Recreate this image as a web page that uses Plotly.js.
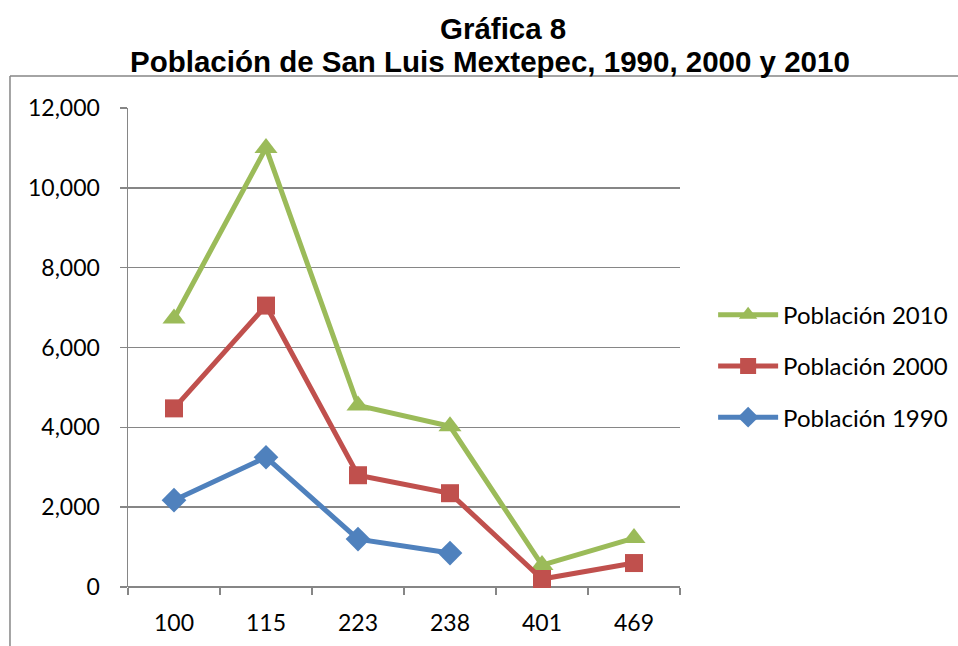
<!DOCTYPE html>
<html>
<head>
<meta charset="utf-8">
<script src="https://cdn.plot.ly/plotly-3.0.1.min.js"></script>
<style>
html,body{margin:0;padding:0;background:#fff;}
#chart{width:958px;height:646px;}
</style>
</head>
<body>
<div id="chart"></div>
<script>
const categories = ["100", "115", "223", "238", "401", "469"];
const pob1990 = [2175, 3250, 1200, 850, null, null];
const pob2000 = [4475, 7050, 2800, 2350, 200, 600];
const pob2010 = [6725, 11000, 4550, 4025, 550, 1225];
const yTicks = [0, 2000, 4000, 6000, 8000, 10000, 12000];
const titleLine1 = 'Gráfica 8';
const titleLine2 = 'Población de San Luis Mextepec, 1990, 2000 y 2010';

const common = {type: 'scatter', mode: 'lines+markers', x: categories, cliponaxis: false};
const traces = [
  Object.assign({}, common, {name: 'Población 1990', y: pob1990, legendrank: 3, legendgroup: 'g1990',
    line: {color: '#4F81BD', width: 5}, marker: {symbol: 'diamond', size: 19, color: '#4F81BD'}}),
  Object.assign({}, common, {name: 'Población 2010', y: pob2010, legendrank: 1, legendgroup: 'g2010',
    line: {color: '#9BBB59', width: 5}, marker: {symbol: 'triangle-up', size: 20, color: '#9BBB59'}}),
  Object.assign({}, common, {name: 'Población 2000', y: pob2000, legendrank: 2, legendgroup: 'g2000',
    line: {color: '#C0504D', width: 5}, marker: {symbol: 'square', size: 18, color: '#C0504D'}})
];

const titleFont = {family: 'Liberation Sans, Arial, sans-serif', size: 29.5, color: '#000'};
const tickFont = {family: 'Lato, Carlito, Calibri, sans-serif', size: 23, color: '#000'};

const layout = {
  width: 958, height: 646,
  margin: {l: 128, r: 278, t: 108, b: 59, autoexpand: false},
  paper_bgcolor: '#ffffff', plot_bgcolor: '#ffffff',
  separators: '.,',
  showlegend: true,
  xaxis: {
    type: 'category', range: [-0.5, 5.5], showgrid: false, zeroline: false,
    showline: false, ticks: 'outside', tickson: 'boundaries', ticklen: 7,
    tickcolor: '#868686', tickwidth: 1.5,
    tickfont: tickFont, ticklabelstandoff: 20, fixedrange: true, automargin: false
  },
  yaxis: {
    range: [0, 12000], tickvals: yTicks, tickformat: ',d',
    showgrid: true, gridcolor: '#868686', gridwidth: 1.5,
    zeroline: true, zerolinecolor: '#868686', zerolinewidth: 1.5,
    showline: true, linecolor: '#868686', linewidth: 1.5,
    ticks: 'outside', ticklen: 7, tickcolor: '#868686', tickwidth: 1.5,
    tickfont: tickFont, ticklabelstandoff: 15, fixedrange: true, automargin: false
  },
  legend: {
    x: 1.06, xanchor: 'left', y: 0.461, yanchor: 'middle',
    traceorder: 'grouped',
    font: {family: 'Lato, Carlito, Calibri, sans-serif', size: 24, color: '#000'},
    itemwidth: 60, tracegroupgap: 17, bgcolor: 'rgba(0,0,0,0)'
  },
  annotations: [
    {text: '<b>' + titleLine1 + '</b>', xref: 'paper', yref: 'paper', x: 0.679, y: 1.167,
     xanchor: 'center', yanchor: 'middle', showarrow: false, font: titleFont},
    {text: '<b>' + titleLine2 + '</b>', xref: 'paper', yref: 'paper', x: 0.656, y: 1.098,
     xanchor: 'center', yanchor: 'middle', showarrow: false, font: titleFont}
  ],
  shapes: [
    {type: 'line', xref: 'paper', yref: 'paper', x0: -0.2138, x1: -0.2138, y0: 1.0668, y1: -0.2, line: {color: '#868686', width: 1.5}},
    {type: 'line', xref: 'paper', yref: 'paper', x0: -0.2138, x1: 1.6, y0: 1.0668, y1: 1.0668, line: {color: '#868686', width: 1.5}}
  ]
};

Plotly.newPlot('chart', traces, layout, {displayModeBar: false, staticPlot: true});
</script>
</body>
</html>
